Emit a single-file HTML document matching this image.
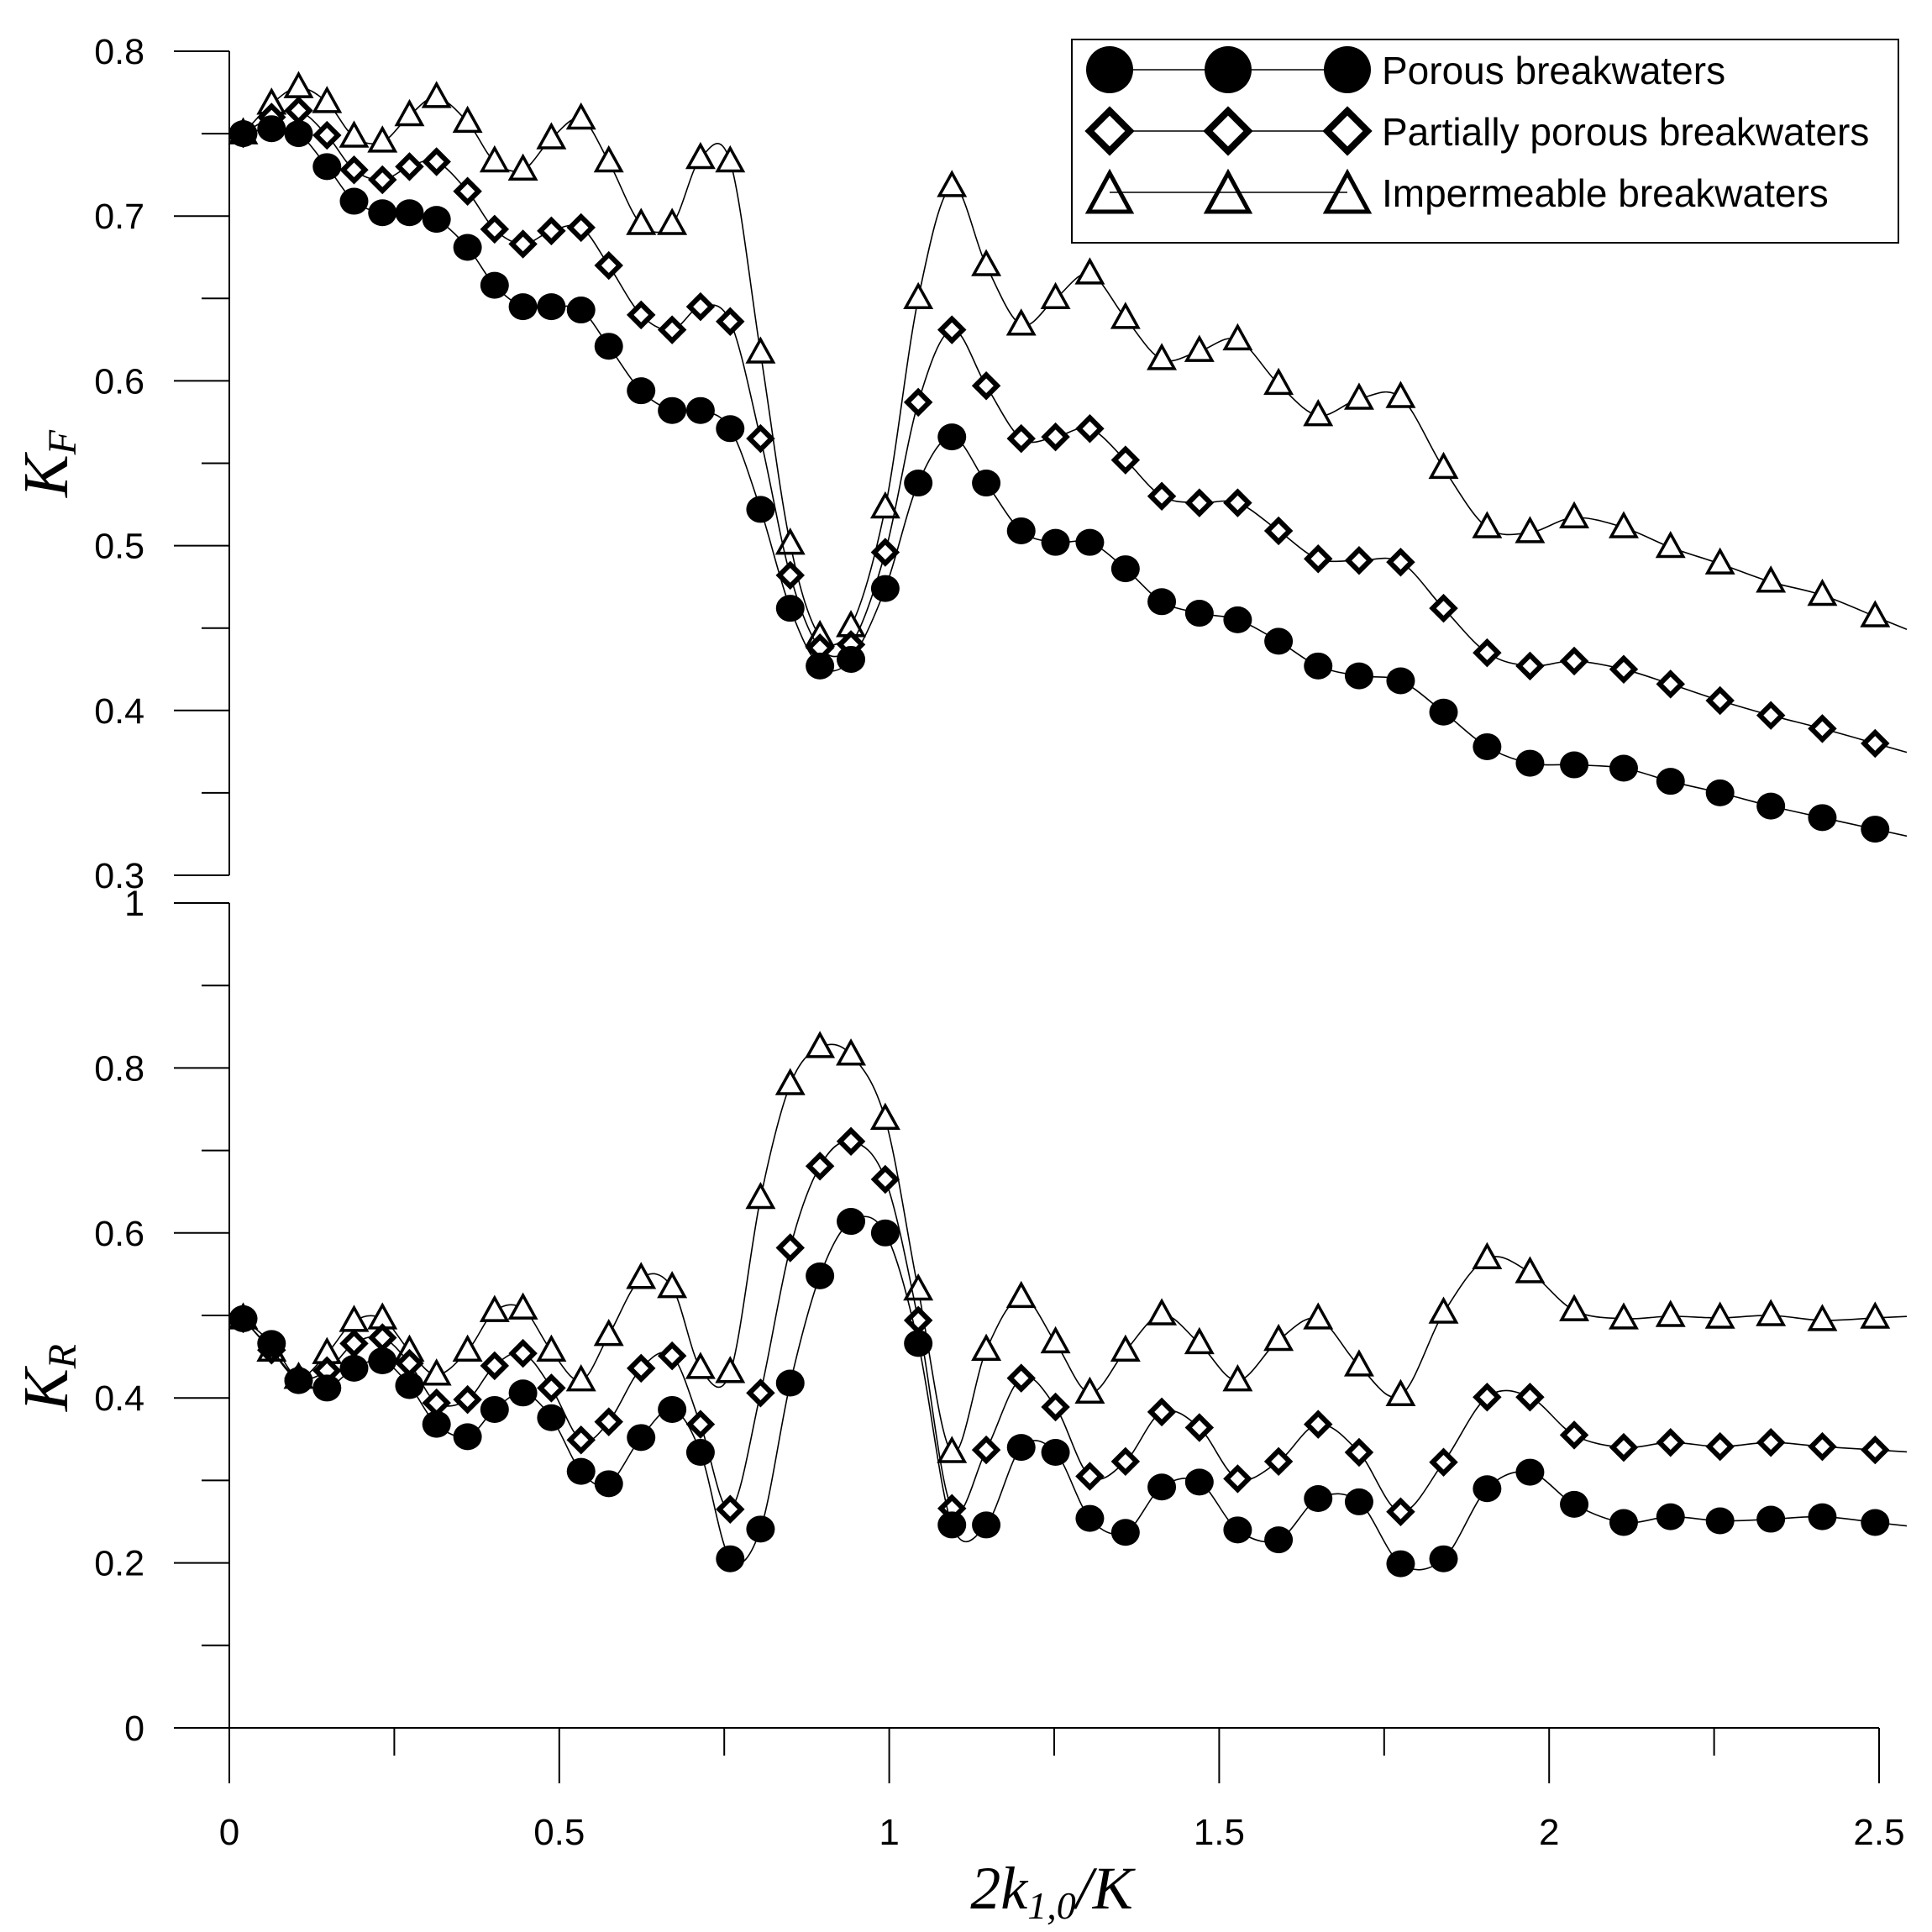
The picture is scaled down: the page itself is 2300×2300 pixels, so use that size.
<!DOCTYPE html>
<html><head><meta charset="utf-8">
<style>html,body{margin:0;padding:0;background:#fff;}svg{display:block;}</style>
</head><body>
<svg id="chart" width="2300" height="2300" viewBox="0 0 2300 2300" xmlns="http://www.w3.org/2000/svg">
<rect width="2300" height="2300" fill="#fff"/>
<g id="axes"></g>
<g id="series"></g>
<g id="legend">
<rect x="1276" y="47" width="984" height="242" fill="#fff" stroke="#000" stroke-width="2"/>
<line x1="1321" y1="83" x2="1604" y2="83" stroke="#000" stroke-width="1.6"/>
<circle cx="1321" cy="83" r="28" fill="#000"/><circle cx="1462" cy="83" r="28" fill="#000"/><circle cx="1604" cy="83" r="28" fill="#000"/>
<text x="1645" y="100" font-family="Liberation Sans, sans-serif" font-size="46">Porous breakwaters</text>
<line x1="1321" y1="156" x2="1604" y2="156" stroke="#000" stroke-width="1.6"/>
<g fill="#fff" stroke="#000" stroke-width="8">
<polygon points="1321,132 1345,156 1321,180 1297,156"/><polygon points="1462,132 1486,156 1462,180 1438,156"/><polygon points="1604,132 1628,156 1604,180 1580,156"/></g>
<text x="1645" y="173" font-family="Liberation Sans, sans-serif" font-size="46">Partially porous breakwaters</text>
<g fill="none" stroke="#000" stroke-width="5">
<polygon points="1321,206 1346,252 1296,252"/><polygon points="1462,206 1487,252 1437,252"/><polygon points="1604,206 1629,252 1579,252"/></g>
<line x1="1321" y1="229" x2="1604" y2="229" stroke="#000" stroke-width="1.6"/>
<text x="1645" y="246" font-family="Liberation Sans, sans-serif" font-size="46">Impermeable breakwaters</text>
</g>
<text transform="translate(80,552) rotate(-90)" text-anchor="middle" font-family="Liberation Serif, serif" font-style="italic" font-size="76">K<tspan font-size="48" dy="10">F</tspan></text>
<text transform="translate(80,1640) rotate(-90)" text-anchor="middle" font-family="Liberation Serif, serif" font-style="italic" font-size="76">K<tspan font-size="48" dy="10">R</tspan></text>
<text x="1252" y="2272" text-anchor="middle" font-family="Liberation Serif, serif" font-style="italic" font-size="72">2k<tspan font-size="46" dy="12">1,0</tspan><tspan dy="-12">/K</tspan></text>
</svg>
<script>
const xs=[0.021,0.064,0.105,0.148,0.189,0.232,0.273,0.314,0.361,0.402,0.445,0.488,0.533,0.575,0.624,0.671,0.714,0.759,0.805,0.850,0.895,0.942,0.994,1.044,1.095,1.147,1.200,1.252,1.304,1.358,1.413,1.470,1.528,1.590,1.650,1.712,1.775,1.840,1.906,1.971,2.038,2.113,2.184,2.259,2.336,2.414,2.494];
const kfPorous=[0.75,0.753,0.75,0.73,0.709,0.702,0.702,0.698,0.681,0.658,0.645,0.645,0.643,0.621,0.594,0.582,0.582,0.571,0.522,0.462,0.427,0.431,0.474,0.538,0.566,0.538,0.509,0.502,0.502,0.486,0.466,0.459,0.455,0.442,0.427,0.421,0.418,0.399,0.378,0.368,0.367,0.365,0.357,0.35,0.342,0.335,0.328];
const kfPartial=[0.75,0.76,0.764,0.749,0.728,0.722,0.73,0.733,0.715,0.692,0.683,0.691,0.693,0.67,0.64,0.631,0.645,0.636,0.565,0.482,0.438,0.44,0.496,0.587,0.631,0.597,0.565,0.566,0.571,0.552,0.53,0.526,0.526,0.509,0.492,0.491,0.49,0.462,0.435,0.427,0.43,0.425,0.416,0.406,0.397,0.389,0.38];
const kfImperm=[0.75,0.768,0.778,0.769,0.748,0.745,0.761,0.772,0.757,0.733,0.728,0.747,0.759,0.733,0.695,0.695,0.735,0.733,0.617,0.501,0.445,0.451,0.523,0.65,0.718,0.67,0.634,0.65,0.665,0.638,0.613,0.618,0.625,0.598,0.579,0.589,0.59,0.547,0.511,0.508,0.517,0.511,0.499,0.489,0.478,0.47,0.457];
const krPorous=[0.496,0.466,0.421,0.412,0.436,0.445,0.415,0.368,0.353,0.386,0.406,0.376,0.311,0.296,0.352,0.386,0.334,0.205,0.241,0.418,0.548,0.614,0.6,0.466,0.246,0.246,0.34,0.334,0.254,0.237,0.292,0.298,0.24,0.228,0.278,0.274,0.199,0.205,0.29,0.31,0.271,0.249,0.256,0.251,0.253,0.256,0.249];
const krPartial=[0.496,0.458,0.424,0.433,0.466,0.473,0.442,0.394,0.398,0.439,0.454,0.412,0.349,0.371,0.436,0.451,0.368,0.265,0.406,0.582,0.681,0.711,0.665,0.494,0.266,0.337,0.424,0.389,0.305,0.323,0.383,0.364,0.302,0.323,0.368,0.334,0.262,0.322,0.401,0.401,0.355,0.34,0.346,0.341,0.346,0.341,0.337];
const krImperm=[0.496,0.457,0.424,0.454,0.493,0.496,0.457,0.428,0.457,0.505,0.508,0.457,0.421,0.476,0.545,0.534,0.436,0.431,0.642,0.78,0.825,0.816,0.738,0.531,0.334,0.458,0.522,0.467,0.406,0.457,0.501,0.466,0.421,0.47,0.496,0.439,0.403,0.503,0.569,0.552,0.506,0.496,0.499,0.497,0.5,0.494,0.497];
const xTicks=[0,0.5,1,1.5,2,2.5];
const xTickLabels=["0","0.5","1","1.5","2","2.5"];
const kfTicks=[0.3,0.4,0.5,0.6,0.7,0.8];
const kfTickLabels=["0.3","0.4","0.5","0.6","0.7","0.8"];
const krTicks=[0,0.2,0.4,0.6,0.8,1];
const krTickLabels=["0","0.2","0.4","0.6","0.8","1"];

const NS="http://www.w3.org/2000/svg";
const X0=273,XS=785.6;
function sx(v){return X0+v*XS;}
function syTop(v){return 61+(0.8-v)*1962;}
function syBot(v){return 2057-v*982;}
function mk(tag,attrs,parent){const e=document.createElementNS(NS,tag);for(const k in attrs)e.setAttribute(k,attrs[k]);parent.appendChild(e);return e;}
const axes=document.getElementById('axes');
const ser=document.getElementById('series');
const AX={stroke:'#000','stroke-width':2};
let l=mk('line',Object.assign({x1:X0,y1:syTop(0.8),x2:X0,y2:syTop(0.3)},AX),axes);


l=mk('line',Object.assign({x1:X0,y1:syBot(1),x2:X0,y2:syBot(0)},AX),axes);


l=mk('line',Object.assign({x1:207,y1:syBot(0),x2:sx(2.5),y2:syBot(0)},AX),axes);


function yTicks(ticks,labels,sy,name){
  ticks.forEach((t,i)=>{
    mk('line',Object.assign({x1:207,y1:sy(t),x2:X0,y2:sy(t)},AX),axes);
    const tx=mk('text',{x:172,y:sy(t)+15,'text-anchor':'end','font-family':'Liberation Sans, sans-serif','font-size':43},axes);
    tx.textContent=labels[i];
    
    
    if(i<ticks.length-1){const m=(t+ticks[i+1])/2;mk('line',Object.assign({x1:240,y1:sy(m),x2:X0,y2:sy(m)},AX),axes);}
  });
}
yTicks(kfTicks,kfTickLabels,syTop,'kf');
yTicks(krTicks,krTickLabels,syBot,'kr');
xTicks.forEach((t,i)=>{
  mk('line',Object.assign({x1:sx(t),y1:syBot(0),x2:sx(t),y2:syBot(0)+66},AX),axes);
  const tx=mk('text',{x:sx(t),y:2196,'text-anchor':'middle','font-family':'Liberation Sans, sans-serif','font-size':44},axes);
  tx.textContent=xTickLabels[i];
  
  
  if(i<xTicks.length-1){const m=(t+xTicks[i+1])/2;mk('line',Object.assign({x1:sx(m),y1:syBot(0),x2:sx(m),y2:syBot(0)+33},AX),axes);}
});
function spline(pts){
  let d='M'+pts[0][0].toFixed(1)+','+pts[0][1].toFixed(1);
  for(let i=0;i<pts.length-1;i++){
    const p0=pts[Math.max(0,i-1)],p1=pts[i],p2=pts[i+1],p3=pts[Math.min(pts.length-1,i+2)];
    const c1=[p1[0]+(p2[0]-p0[0])/6,p1[1]+(p2[1]-p0[1])/6];
    const c2=[p2[0]-(p3[0]-p1[0])/6,p2[1]-(p3[1]-p1[1])/6];
    d+=' C'+c1[0].toFixed(1)+','+c1[1].toFixed(1)+' '+c2[0].toFixed(1)+','+c2[1].toFixed(1)+' '+p2[0].toFixed(1)+','+p2[1].toFixed(1);
  }
  const a=pts[pts.length-2],b=pts[pts.length-1];
  const f=(2300-b[0]-30)/(b[0]-a[0]);
  d+=' L'+(b[0]+(b[0]-a[0])*f).toFixed(1)+','+(b[1]+(b[1]-a[1])*f).toFixed(1);
  return d;
}
function drawSeries(vals,sy,kind,name){
  const pts=vals.map((v,i)=>[sx(xs[i]),sy(v)]);
  const p=mk('path',{d:spline(pts),fill:'none',stroke:'#000','stroke-width':1.6},ser);
  
  
  pts.forEach(([x,y])=>{
    let e;
    if(kind==='circle'){e=mk('ellipse',{cx:x,cy:y,rx:17,ry:16,fill:'#000'},ser);}
    else if(kind==='diamond'){e=mk('polygon',{points:`${x},${y-13} ${x+13},${y} ${x},${y+13} ${x-13},${y}`,fill:'#fff',stroke:'#000','stroke-width':6},ser);}
    else {e=mk('polygon',{points:`${x},${y-16} ${x+15},${y+11} ${x-15},${y+11}`,fill:'#fff',stroke:'#000','stroke-width':3.5},ser);}
    
    
  });
}
drawSeries(kfImperm,syTop,'tri','kf-impermeable');
drawSeries(kfPartial,syTop,'diamond','kf-partially-porous');
drawSeries(kfPorous,syTop,'circle','kf-porous');
drawSeries(krImperm,syBot,'tri','kr-impermeable');
drawSeries(krPartial,syBot,'diamond','kr-partially-porous');
drawSeries(krPorous,syBot,'circle','kr-porous');
</script>
</body></html>
